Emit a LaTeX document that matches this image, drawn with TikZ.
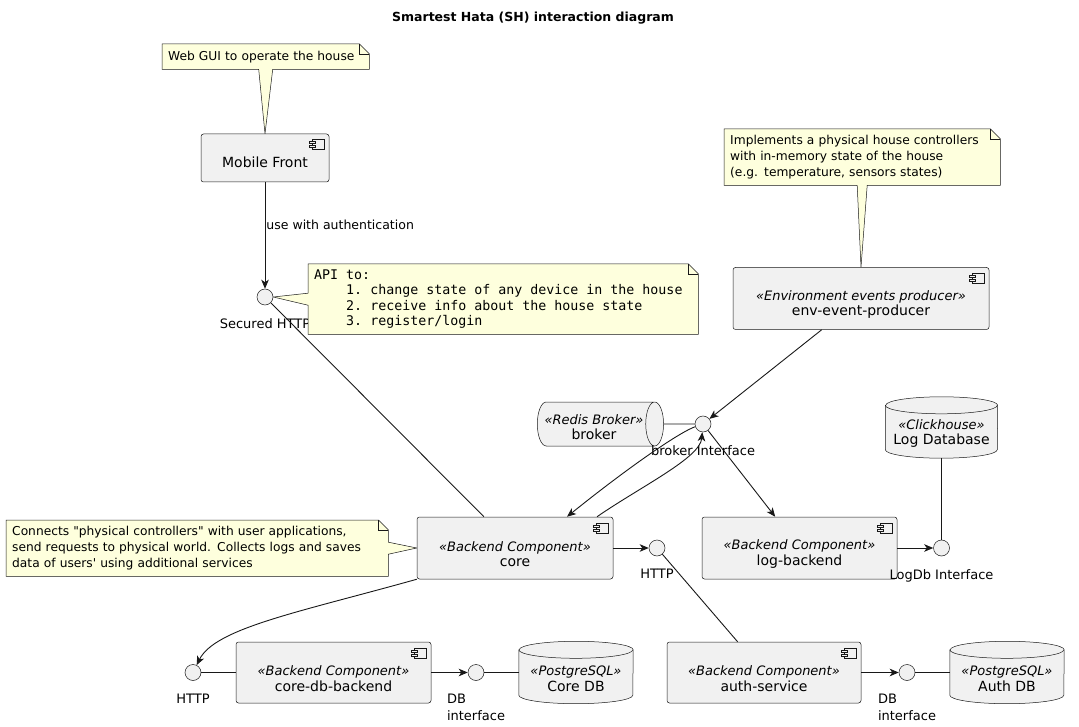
\documentclass[tikz,border=0pt]{standalone}
\usepackage{fontspec}
\setmainfont{DejaVu Sans}
\newfontfamily\apifont{DejaVu Sans Mono}
\usetikzlibrary{arrows.meta,positioning,shapes.geometric,backgrounds}
\definecolor{compbg}{HTML}{F1F1F1}
\definecolor{notebg}{HTML}{FEFFDD}
\definecolor{umlline}{HTML}{181818}
\newcommand\stereo[1]{{\fontsize{13}{15.5}\selectfont\itshape\rule{0pt}{22pt}«#1»}\\}
\newcommand\monospaces{\spaceskip=\fontcharwd\font`\M\relax\xspaceskip=\spaceskip}
\newcommand\compicon[1]{%
  \begin{scope}[shift={(#1.north east)}, draw=umlline, line width=0.5pt]
    \filldraw[fill=compbg] (-17,6) rectangle (-5,16);
    \filldraw[fill=compbg] (-20,8) rectangle (-14,10);
    \filldraw[fill=compbg] (-20,12) rectangle (-14,14);
  \end{scope}}
\newcommand\notefold[1]{%
  \draw[umlline, line width=0.5pt] ([xshift=-10pt]#1.north east) |- ([yshift=-10pt]#1.north east);}
% database drum round a plain node: #1 node, #2 half width
\newcommand\dbdrum[2]{%
  \filldraw[draw=umlline, line width=0.5pt, fill=compbg] ([yshift=-8.5pt]#1.north west) -- ([yshift=8.5pt]#1.south west)
    arc[start angle=180, end angle=360, x radius=#2pt, y radius=8.5pt] -- ([yshift=-8.5pt]#1.north east)
    arc[start angle=0, end angle=180, x radius=#2pt, y radius=8.5pt] -- cycle;
  \draw[umlline, line width=0.5pt] ([yshift=-8.5pt]#1.north west) arc[start angle=180, end angle=360, x radius=#2pt, y radius=8.5pt];}

\begin{document}
\begin{tikzpicture}[x=1pt,y=-1pt,
  >={Stealth[length=9pt,width=7.5pt,inset=2.5pt]},
  comp/.style={draw=umlline, line width=0.5pt, fill=compbg, rounded corners=2.5pt, align=center, font=\fontsize{14}{15.5}\selectfont, inner sep=2pt},
  iface/.style={circle, draw=umlline, line width=0.5pt, fill=compbg, minimum size=16pt, inner sep=0pt},
  db/.style={rectangle, align=center, font=\fontsize{14}{15.5}\selectfont, inner sep=2pt},
  queue/.style={cylinder, aspect=0.5, draw=umlline, line width=0.5pt, fill=compbg, align=center, font=\fontsize{14}{15.5}\selectfont, inner sep=2pt},
  note/.style={anchor=north west, inner xsep=6pt, inner ysep=3pt, align=left, font=\fontsize{12.25}{16}\selectfont},
  notebody/.style={draw=umlline, line width=0.5pt, fill=notebg},
  iflbl/.style={inner sep=1pt, align=left, font=\fontsize{13}{17}\selectfont},
  edgelbl/.style={inner sep=1pt, font=\fontsize{12.5}{15}\selectfont},
  conn/.style={draw=umlline, line width=0.9pt},
  arr/.style={conn, ->}]
  \useasboundingbox (0,0) rectangle (1079,727);

  \node[font=\bfseries\fontsize{12.5}{15}\selectfont] (title) at (533,18) {Smartest Hata (SH) interaction diagram};

  % components
  \node[comp, minimum width=128pt, minimum height=48pt] (mobile) at (265,158) {\rule{0pt}{20pt}Mobile Front};
  \node[iface] (sechttp) at (265,297) {};
  \node[comp, minimum width=256pt, minimum height=62pt] (env) at (861,298.5) {\stereo{Environment events producer}env-event-producer};
  \node[queue, minimum width=44pt, minimum height=120pt] (broker) at (594,424) {{\fontsize{13}{15.5}\selectfont\itshape\rule{0pt}{16pt}«Redis Broker»}\\broker};
  \node[iface] (brokerif) at (703,424) {};
  \node[db, minimum width=112pt, minimum height=61pt] (logdb) at (941.5,427.5) {\stereo{Clickhouse}Log Database};
  \node[comp, minimum width=196pt, minimum height=62pt] (core) at (515,548) {\stereo{Backend Component}core};
  \node[iface] (corehttp) at (657,548) {};
  \node[comp, minimum width=195pt, minimum height=62pt] (logback) at (799.5,548) {\stereo{Backend Component}log-backend};
  \node[iface] (logdbif) at (941.5,548) {};
  \node[iface] (dbhttp) at (193,672.5) {};
  \node[comp, minimum width=195pt, minimum height=61pt] (coredbback) at (333.5,672.5) {\stereo{Backend Component}core-db-backend};
  \node[iface] (coredbif) at (476,672.5) {};
  \node[db, minimum width=114pt, minimum height=62pt] (coredb) at (576,672.5) {\stereo{PostgreSQL}Core DB};
  \node[comp, minimum width=194pt, minimum height=61pt] (auth) at (764,672.5) {\stereo{Backend Component}auth-service};
  \node[iface] (authdbif) at (907,672.5) {};
  \node[db, minimum width=114pt, minimum height=62pt] (authdb) at (1007,672.5) {\stereo{PostgreSQL}Auth DB};
  \foreach \c in {mobile,env,core,logback,coredbback,auth} {\compicon{\c}}

  % interface labels
  \node[iflbl, below=12pt of brokerif] (brokeriflbl) {broker Interface};
  \node[iflbl, below=12pt of corehttp] (corehttplbl) {HTTP};
  \node[iflbl, below=12pt of logdbif] (logdbiflbl) {LogDb Interface};
  \node[iflbl, below=12pt of dbhttp] (dbhttplbl) {HTTP};
  \node[iflbl, below=12pt of coredbif] (coredbiflbl) {DB\\interface};
  \node[iflbl, below=12pt of authdbif] (authdbiflbl) {DB\\interface};

  % notes
  \node[note, text width=195pt, minimum height=25pt] (webnote) at (162,44) {Web GUI to operate the house};
  \node[note, font=\apifont\fontsize{13.3}{15.5}\selectfont, text width=378pt, minimum height=70pt] (apinote) at (308,264)
    {\monospaces API to:\\\hspace*{4\spaceskip}1. change state of any device in the house\\\hspace*{4\spaceskip}2. receive info about the house state\\\hspace*{4\spaceskip}3. register/login};
  \node[note, text width=264pt, minimum height=56pt] (envnote) at (724,129) {Implements a physical house controllers\\with in-memory state of the house\\(e.g. temperature, sensors states)};
  \node[note, text width=370pt, minimum height=56pt] (corenote) at (6,520) {Connects \textquotedbl physical controllers\textquotedbl{} with user applications,\\send requests to physical world. Collects logs and saves\\data of users\textquotesingle{} using additional services};

  \begin{scope}[on background layer]
    \node[iflbl, below=12pt of sechttp] (sechttplbl) {Secured HTTP};
    \dbdrum{logdb}{56}
    \dbdrum{coredb}{57}
    \dbdrum{authdb}{57}
    \filldraw[notebody] (webnote.north west) -- ([xshift=-10pt]webnote.north east) -- ([yshift=-10pt]webnote.north east)
      -- (webnote.south east) -- ([xshift=7pt]webnote.south) -- (mobile.north) -- ([xshift=-7pt]webnote.south) -- (webnote.south west) -- cycle;
    \filldraw[notebody] (apinote.north west) -- ([xshift=-10pt]apinote.north east) -- ([yshift=-10pt]apinote.north east)
      -- (apinote.south east) -- (apinote.south west) -- ([yshift=-6pt]apinote.west) -- (sechttp.east) -- ([yshift=6pt]apinote.west) -- cycle;
    \filldraw[notebody] (envnote.north west) -- ([xshift=-10pt]envnote.north east) -- ([yshift=-10pt]envnote.north east)
      -- (envnote.south east) -- ([xshift=5pt]envnote.south) -- (env.north) -- ([xshift=-5pt]envnote.south) -- (envnote.south west) -- cycle;
    \filldraw[notebody] (corenote.north west) -- ([xshift=-10pt]corenote.north east) -- ([yshift=-10pt]corenote.north east)
      -- ([yshift=6pt]corenote.east) -- (core.west) -- ([yshift=-6pt]corenote.east) -- (corenote.south east) -- (corenote.south west) -- cycle;
    \foreach \n in {webnote,apinote,envnote,corenote} {\notefold{\n}}
  \end{scope}

  % connectors
  \draw[arr] (mobile) -- node[edgelbl, right, pos=0.4] (authtxt) {use with authentication} (sechttp);
  \draw[conn] (sechttp) -- (core);
  \draw[arr] (env) -- (brokerif);
  \draw[conn] (broker) -- (brokerif);
  \draw[arr] (brokerif) .. controls (680,432) and (630,466) .. ([xshift=52pt]core.north);
  \draw[arr] ([xshift=82pt]core.north) .. controls (640,487) and (700,458) .. (brokerif);
  \draw[arr] (brokerif) -- (logback);
  \draw[arr] (core) -- (corehttp);
  \draw[conn] (corehttp) -- (auth);
  \draw[arr] (logback) -- (logdbif);
  \draw[conn] (logdb) -- (logdbif);
  \draw[arr] (core.south west) .. controls (300,612) and (215,628) .. (dbhttp);
  \draw[conn] (dbhttp) -- (coredbback);
  \draw[arr] (coredbback) -- (coredbif);
  \draw[conn] (coredbif) -- (coredb);
  \draw[arr] (auth) -- (authdbif);
  \draw[conn] (authdbif) -- (authdb);
\end{tikzpicture}
\end{document}
